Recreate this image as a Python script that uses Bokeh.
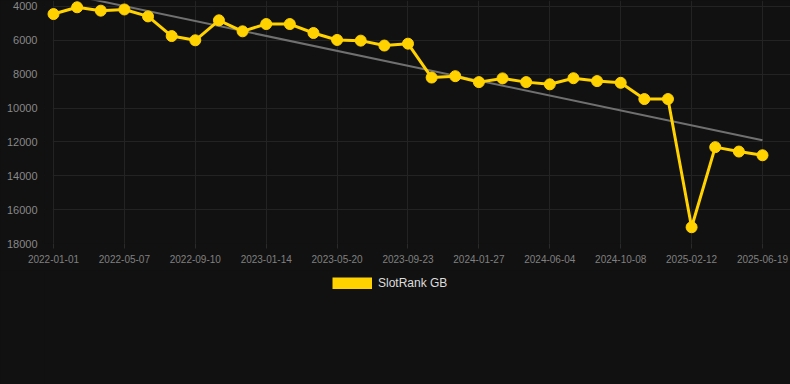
import numpy as np
from bokeh.plotting import figure
from bokeh.layouts import column
from bokeh.models import Range1d, FixedTicker, Legend, LegendItem, ColumnDataSource, BoxAnnotation
from bokeh.embed import file_html
from bokeh.resources import INLINE

# data
rank = [4450, 4050, 4250, 4180, 4590, 5750, 6000, 4820, 5470, 5040, 5040,
        5570, 5980, 6020, 6310, 6200, 8200, 8120, 8470, 8250, 8470, 8600,
        8240, 8410, 8510, 9470, 9470, 17040, 12310, 12570, 12790]
tick_idx = [0, 3, 6, 9, 12, 15, 18, 21, 24, 27, 30]
tick_labels = ["2022-01-01", "2022-05-07", "2022-09-10", "2023-01-14", "2023-05-20",
               "2023-09-23", "2024-01-27", "2024-06-04", "2024-10-08", "2025-02-12",
               "2025-06-19"]
y_ticks = [4000, 6000, 8000, 10000, 12000, 14000, 16000, 18000]

idx = list(range(len(rank)))
coef = np.polyfit(idx, rank, 1)
trend_x = [idx[0], idx[-1]]
trend_y = [float(np.polyval(coef, idx[0])), float(np.polyval(coef, idx[-1]))]

BG = "#111111"
GOLD = "#FFD200"
FONT = "Liberation Sans"

p = figure(width=790, height=270, output_backend="svg", toolbar_location=None,
           x_range=Range1d(-0.381, 31.185), y_range=Range1d(18000, 3650),
           min_border_left=44, min_border_right=0, min_border_top=0, min_border_bottom=27)
p.background_fill_color = BG
p.border_fill_color = BG
p.outline_line_color = None

p.xaxis.ticker = FixedTicker(ticks=tick_idx)
p.xaxis.major_label_overrides = {i: l for i, l in zip(tick_idx, tick_labels)}
p.xaxis.major_label_text_font = FONT
p.xaxis.major_label_text_font_size = "10px"
p.xaxis.major_label_text_color = "#808080"
p.xaxis.axis_line_color = None
p.xaxis.major_tick_line_color = "#2a2a2a"
p.xaxis.major_tick_out = 5
p.xaxis.major_tick_in = 0
p.xaxis.minor_tick_line_color = None
p.xaxis.major_label_standoff = 6

p.yaxis.ticker = FixedTicker(ticks=y_ticks)
p.yaxis.major_label_text_font = FONT
p.yaxis.major_label_text_font_size = "11px"
p.yaxis.major_label_text_color = "#888888"
p.yaxis.axis_line_color = None
p.yaxis.major_tick_line_color = None
p.yaxis.minor_tick_line_color = None
p.yaxis.major_label_standoff = 1

p.xgrid.grid_line_color = "#232323"
p.ygrid.grid_line_color = "#232323"

# hide grid to the left of the first category
p.add_layout(BoxAnnotation(right=-0.03, fill_color=BG, fill_alpha=1.0,
                           line_color=None, level="underlay"))

p.line(trend_x, trend_y, line_width=2, color="#707070")
src = ColumnDataSource(dict(x=idx, y=rank))
p.line("x", "y", source=src, line_width=3, color=GOLD)
p.scatter("x", "y", source=src, size=11, color=GOLD)

# legend strip below the chart
q = figure(width=790, height=114, output_backend="svg", toolbar_location=None,
           x_range=Range1d(0, 790), y_range=Range1d(0, 114),
           min_border_left=0, min_border_right=0, min_border_top=0, min_border_bottom=0)
q.axis.visible = False
q.grid.visible = False
q.background_fill_color = BG
q.border_fill_color = BG
q.outline_line_color = None
dummy = q.line(x=[np.nan, np.nan], y=[np.nan, np.nan], line_width=12, color=GOLD)
legend = Legend(items=[LegendItem(label="SlotRank GB", renderers=[dummy])],
                location=(288, 94), orientation="horizontal",
                glyph_width=40, glyph_height=12, label_height=12,
                label_standoff=6, padding=0, margin=0, spacing=0,
                border_line_color=None, background_fill_alpha=0,
                label_text_font=FONT, label_text_font_size="12px",
                label_text_color="#dddddd")
q.add_layout(legend, "center")

layout = column(p, q, spacing=0)
html = file_html(layout, INLINE)
html = html.replace("<head>", "<head><style>body{margin:0;background:#111111;}</style>", 1)
open("out.html", "w").write(html)
